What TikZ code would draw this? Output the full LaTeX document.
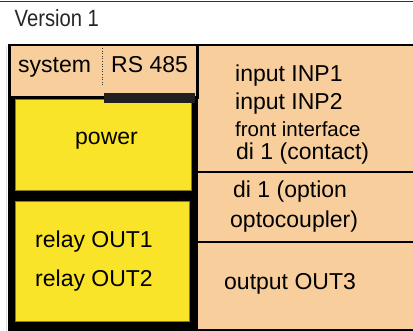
\documentclass[tikz,border=0pt]{standalone}
\usepackage{fontspec}
\setmainfont{Liberation Sans}
\newfontfamily\condfont[FakeStretch=0.86]{Liberation Sans}
\definecolor{peach}{HTML}{F9CE9D}
\definecolor{lemon}{HTML}{F9E429}
\definecolor{barblack}{HTML}{231F20}
\begin{document}
\begin{tikzpicture}[x=1pt, y=-1pt, line join=miter,
    lbl/.style={anchor=base west, inner sep=0pt, font=\fontsize{23}{27}\selectfont},
    sublbl/.style={lbl, font=\fontsize{20.5}{24}\selectfont}]
    % Frame of the picture (pixel coordinates, y downwards)
    \useasboundingbox (0,0) rectangle (413,331);
    \coordinate (TL) at (0,0);
    \coordinate (BR) at (413,331);

    % Outer frame lines
    \draw[black!80, line width=1.2pt] (0,1.2) -- (413,1.2);
    \draw[black!12, line width=0.8pt] (6.5,46) -- (6.5,331);

    % Right hand field (orange) and its separators
    \fill[peach] (197,45) rectangle (413,331);
    \draw[line width=2.5pt] (8,44.8) -- (413,44.8);
    \draw[line width=2pt] (197,172) -- (413,172);
    \draw[line width=2pt] (197,242) -- (413,242);
    \draw[line width=2.2pt] (197,330) -- (413,330);
    \draw[line width=1.5pt] (197.5,45) -- (197.5,100);

    % System / RS 485 box
    \fill[peach] (9.5,44.8) rectangle (197.3,97.5);
    \draw[line width=2.5pt] (9.5,44.8) rectangle (197.3,97.5);
    \draw[black!80, line width=0.6pt, dotted] (102.5,48) -- (102.5,85);

    % Black block with the two yellow fields
    \fill[black] (8,97) rectangle (198,331);
    \fill[lemon] (15.5,99.5) rectangle (191,190.5);
    \fill[lemon] (15.5,201) rectangle (189,321);
    \draw[lemon!55!black, line width=0.5pt] (15.5,99.5) rectangle (191,190.5);
    \draw[lemon!55!black, line width=0.5pt] (15.5,201) rectangle (189,321);

    % RS 485 bar
    \fill[barblack] (104,93.5) rectangle (195,103);

    % Title
    \node[anchor=base west, inner sep=0pt, text=black!85,
          font=\condfont\fontsize{23.5}{27}\selectfont] (ver) at (14.5,27) {Version 1};

    % Labels of the left column
    \node[lbl] (sys) at (18,73) {system};
    \node[lbl] (rs) at (111,73) {RS 485};
    \node[lbl] (pwr) at (75,145) {power};
    \node[lbl] (relA) at (35,248) {relay OUT1};
    \node[lbl] (relB) at (35,287) {relay OUT2};

    % Labels of the right column
    \node[lbl] (inpA) at (235,82) {input INP1};
    \node[lbl] (inpB) at (235,110) {input INP2};
    \node[sublbl] (front) at (235,137) {front interface};
    \node[lbl] (dic) at (236,160) {di 1 (contact)};
    \node[lbl] (dio) at (233,198) {di 1 (option};
    \node[lbl] (opto) at (230,228) {optocoupler)};
    \node[lbl] (outC) at (224,290) {output OUT3};
\end{tikzpicture}
\end{document}
